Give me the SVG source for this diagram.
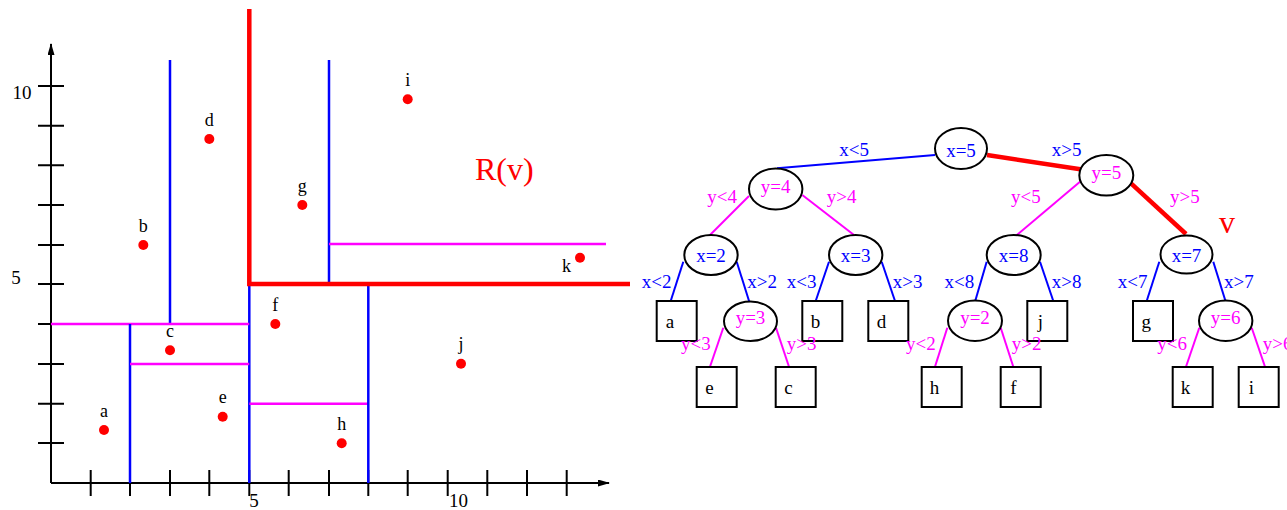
<svg xmlns="http://www.w3.org/2000/svg" width="1287" height="510" viewBox="0 0 1287 510">
<style>
text{font-family:"Liberation Serif","Times New Roman",serif;}
.ax{stroke:#000;stroke-width:2;fill:none}
.bl{stroke:#0000ff;stroke-width:2.5;fill:none}
.mg{stroke:#ff00ff;stroke-width:2.5;fill:none}
.rd{stroke:#ff0000;stroke-width:4.5;fill:none}
.pt{fill:#ff0000}
.pl{font-size:18px;fill:#000;text-anchor:middle}
.axl{font-size:19px;fill:#000;text-anchor:middle}
.nd{fill:#fff;stroke:#000;stroke-width:2}
.nx{font-size:19px;fill:#0000ff;text-anchor:middle}
.ny{font-size:19px;fill:#ff00ff;text-anchor:middle}
.lf{font-size:19px;fill:#000;text-anchor:middle}
.eb{stroke:#0000ff;stroke-width:2;fill:none}
.em{stroke:#ff00ff;stroke-width:2;fill:none}
.er{stroke:#ff0000;stroke-width:4.5;fill:none}
.lb{font-size:19px;fill:#0000ff}
.lm{font-size:19px;fill:#ff00ff}
</style>
<defs>
<marker id="ah" markerWidth="12" markerHeight="7" refX="11" refY="3.5" orient="auto" markerUnits="userSpaceOnUse">
<path d="M0,0 L12,3.5 L0,7 Z" fill="#000"/>
</marker>
</defs>

<g id="plot">
<line class="ax" x1="51" y1="483" x2="51" y2="44" marker-end="url(#ah)"/>
<line class="ax" x1="51" y1="483" x2="609" y2="483" marker-end="url(#ah)"/>
<g class="ax">
<path d="M38,443 H64 M38,403.7 H64 M38,364 H64 M38,324 H64 M38,284 H64 M38,245 H64 M38,205 H64 M38,165.3 H64 M38,125.7 H64 M38,86 H64"/>
<path d="M90.7,470 V496 M130,470 V496 M170,470 V496 M209.3,470 V496 M249.3,470 V496 M288.7,470 V496 M329,470 V496 M368.3,470 V496 M407.7,470 V496 M447.7,470 V496 M487.3,470 V496 M527,470 V496 M566.7,470 V496"/>
</g>
<text class="axl" x="22" y="99">10</text>
<text class="axl" x="16" y="283.5">5</text>
<text class="axl" x="254" y="507">5</text>
<text class="axl" x="458.5" y="507">10</text>

<line class="bl" x1="170" y1="60" x2="170" y2="324"/>
<line class="bl" x1="329" y1="60" x2="329" y2="284"/>
<line class="mg" x1="329" y1="244" x2="606" y2="244"/>
<line class="bl" x1="249.3" y1="284" x2="249.3" y2="483"/>
<line class="mg" x1="51" y1="324" x2="249.3" y2="324"/>
<line class="bl" x1="130" y1="324" x2="130" y2="483"/>
<line class="mg" x1="130" y1="364" x2="249.3" y2="364"/>
<line class="mg" x1="249.3" y1="403.7" x2="368.3" y2="403.7"/>
<line class="bl" x1="368.3" y1="284" x2="368.3" y2="483"/>
<path class="rd" d="M249.3,9 V284 H630"/>

<circle class="pt" cx="104" cy="430" r="5"/><text class="pl" x="104" y="416.5">a</text>
<circle class="pt" cx="143.3" cy="245" r="5"/><text class="pl" x="143.3" y="231.5">b</text>
<circle class="pt" cx="170" cy="350.3" r="5"/><text class="pl" x="170" y="336.8">c</text>
<circle class="pt" cx="209.3" cy="139" r="5"/><text class="pl" x="209.3" y="125.5">d</text>
<circle class="pt" cx="222.7" cy="416.7" r="5"/><text class="pl" x="222.7" y="403.2">e</text>
<circle class="pt" cx="275.3" cy="324" r="5"/><text class="pl" x="275.3" y="310.5">f</text>
<circle class="pt" cx="302.3" cy="205" r="5"/><text class="pl" x="302.3" y="191.5">g</text>
<circle class="pt" cx="341.7" cy="443.3" r="5"/><text class="pl" x="341.7" y="429.8">h</text>
<circle class="pt" cx="407.7" cy="99.3" r="5"/><text class="pl" x="407.7" y="85.8">i</text>
<circle class="pt" cx="461" cy="363.7" r="5"/><text class="pl" x="461" y="350.2">j</text>
<circle class="pt" cx="580" cy="257.7" r="5"/><text class="pl" x="566.5" y="271.5">k</text>

<text x="475" y="180" font-size="32" fill="#ff0000">R(v)</text>
</g>

<g id="connectors">
<line class="eb" x1="777" y1="168.3" x2="935" y2="155"/>
<line class="er" x1="987" y1="155" x2="1082" y2="169.5"/>
<line class="em" x1="749" y1="196" x2="710" y2="235"/>
<line class="em" x1="802.3" y1="195" x2="854" y2="235"/>
<line class="em" x1="1080" y1="181.7" x2="1015.7" y2="236" stroke-width="1.5"/>
<line class="er" x1="1131" y1="183.3" x2="1186" y2="234"/>
<line class="eb" x1="683.3" y1="261.7" x2="670.7" y2="301"/>
<line class="eb" x1="736.7" y1="261.7" x2="749.3" y2="301.7"/>
<line class="eb" x1="829" y1="261.7" x2="815.7" y2="301"/>
<line class="eb" x1="881.7" y1="261.7" x2="895" y2="301"/>
<line class="eb" x1="986.7" y1="261.7" x2="975" y2="301.7"/>
<line class="eb" x1="1040" y1="261.7" x2="1053.3" y2="301"/>
<line class="eb" x1="1159.3" y1="261.7" x2="1146.7" y2="301"/>
<line class="eb" x1="1213.3" y1="261.7" x2="1225.7" y2="301.7"/>
<line class="em" x1="723.3" y1="327.7" x2="710" y2="366.7"/>
<line class="em" x1="776" y1="327.7" x2="789" y2="366.7"/>
<line class="em" x1="947.3" y1="327.7" x2="935" y2="366.7"/>
<line class="em" x1="1000.7" y1="327.7" x2="1013.3" y2="366.7"/>
<line class="em" x1="1199.3" y1="327.7" x2="1186" y2="366.7"/>
<line class="em" x1="1251.7" y1="327.7" x2="1265" y2="366.7"/>
</g>

<g id="node-x5"><ellipse class="nd" cx="961" cy="148.5" rx="26" ry="20.5"/><text class="nx" x="961" y="156.5">x=5</text></g>
<g id="node-y4"><ellipse class="nd" cx="775.7" cy="189" rx="26.7" ry="20.5"/><text class="ny" x="775.7" y="192.5">y=4</text></g>
<g id="node-y5"><ellipse class="nd" cx="1106.3" cy="175.3" rx="27" ry="20.3" stroke="#0000ff"/><text class="ny" x="1106.3" y="179">y=5</text></g>
<g id="node-x2"><ellipse class="nd" cx="711" cy="255" rx="26.7" ry="20"/><text class="nx" x="711" y="261.5">x=2</text></g>
<g id="node-x3"><ellipse class="nd" cx="855.7" cy="255" rx="26.7" ry="20"/><text class="nx" x="855.7" y="261.5">x=3</text></g>
<g id="node-x8"><ellipse class="nd" cx="1013.7" cy="255" rx="27" ry="20"/><text class="nx" x="1013.7" y="261.5">x=8</text></g>
<g id="node-x7"><ellipse class="nd" cx="1186.5" cy="254.5" rx="26" ry="19" stroke="#ff0000" stroke-width="4.5"/><text class="nx" x="1186.5" y="261.5">x=7</text></g>
<g id="node-y3"><ellipse class="nd" cx="750.5" cy="321.3" rx="26.5" ry="19.7"/><text class="ny" x="750.5" y="323.5">y=3</text></g>
<g id="node-y2"><ellipse class="nd" cx="975" cy="320.7" rx="27" ry="20.3"/><text class="ny" x="975" y="323.5">y=2</text></g>
<g id="node-y6"><ellipse class="nd" cx="1225.7" cy="320.7" rx="26.7" ry="20.3"/><text class="ny" x="1225.7" y="323.5">y=6</text></g>

<g id="leaf-a"><rect class="nd" x="656.7" y="301" width="40" height="40"/><text class="lf" x="670" y="328.3">a</text></g>
<g id="leaf-b"><rect class="nd" x="802.3" y="301" width="40" height="40"/><text class="lf" x="815.5" y="328.3">b</text></g>
<g id="leaf-d"><rect class="nd" x="868.3" y="301" width="40" height="40"/><text class="lf" x="881.5" y="328.3">d</text></g>
<g id="leaf-j"><rect class="nd" x="1027.3" y="301" width="40" height="40"/><text class="lf" x="1040.5" y="328.3">j</text></g>
<g id="leaf-g"><rect class="nd" x="1133" y="301" width="40" height="40"/><text class="lf" x="1146.2" y="328.3">g</text></g>
<g id="leaf-e"><rect class="nd" x="696.7" y="367" width="40" height="40"/><text class="lf" x="709.5" y="394.3">e</text></g>
<g id="leaf-c"><rect class="nd" x="775.7" y="367" width="40" height="40"/><text class="lf" x="788.5" y="394.3">c</text></g>
<g id="leaf-h"><rect class="nd" x="921.7" y="367" width="40" height="40"/><text class="lf" x="934.5" y="394.3">h</text></g>
<g id="leaf-f"><rect class="nd" x="1000.7" y="367" width="40" height="40"/><text class="lf" x="1013.5" y="394.3">f</text></g>
<g id="leaf-k"><rect class="nd" x="1172.7" y="367" width="40" height="40"/><text class="lf" x="1185.5" y="394.3">k</text></g>
<g id="leaf-i"><rect class="nd" x="1238.7" y="367" width="40" height="40"/><text class="lf" x="1251.5" y="394.3">i</text></g>

<g id="edge-labels">
<text class="lb" x="839.3" y="156">x&lt;5</text>
<text class="lb" x="1051.7" y="156">x&gt;5</text>
<text class="lm" x="707.3" y="203.3">y&lt;4</text>
<text class="lm" x="826.7" y="203.3">y&gt;4</text>
<text class="lm" x="1011" y="203.3">y&lt;5</text>
<text class="lm" x="1170" y="203.3">y&gt;5</text>
<text class="lb" x="641.7" y="288">x&lt;2</text>
<text class="lb" x="747.3" y="288">x&gt;2</text>
<text class="lb" x="786.7" y="288">x&lt;3</text>
<text class="lb" x="892.7" y="288">x&gt;3</text>
<text class="lb" x="944.5" y="288">x&lt;8</text>
<text class="lb" x="1051.7" y="288">x&gt;8</text>
<text class="lb" x="1117.7" y="288">x&lt;7</text>
<text class="lb" x="1224" y="288">x&gt;7</text>
<text class="lm" x="681" y="350">y&lt;3</text>
<text class="lm" x="786.7" y="350">y&gt;3</text>
<text class="lm" x="906" y="350">y&lt;2</text>
<text class="lm" x="1011.7" y="350">y&gt;2</text>
<text class="lm" x="1157.3" y="350">y&lt;6</text>
<text class="lm" x="1262.7" y="350">y&gt;6</text>
<text x="1219" y="233.3" font-size="32" fill="#ff0000">v</text>
</g>
</svg>
